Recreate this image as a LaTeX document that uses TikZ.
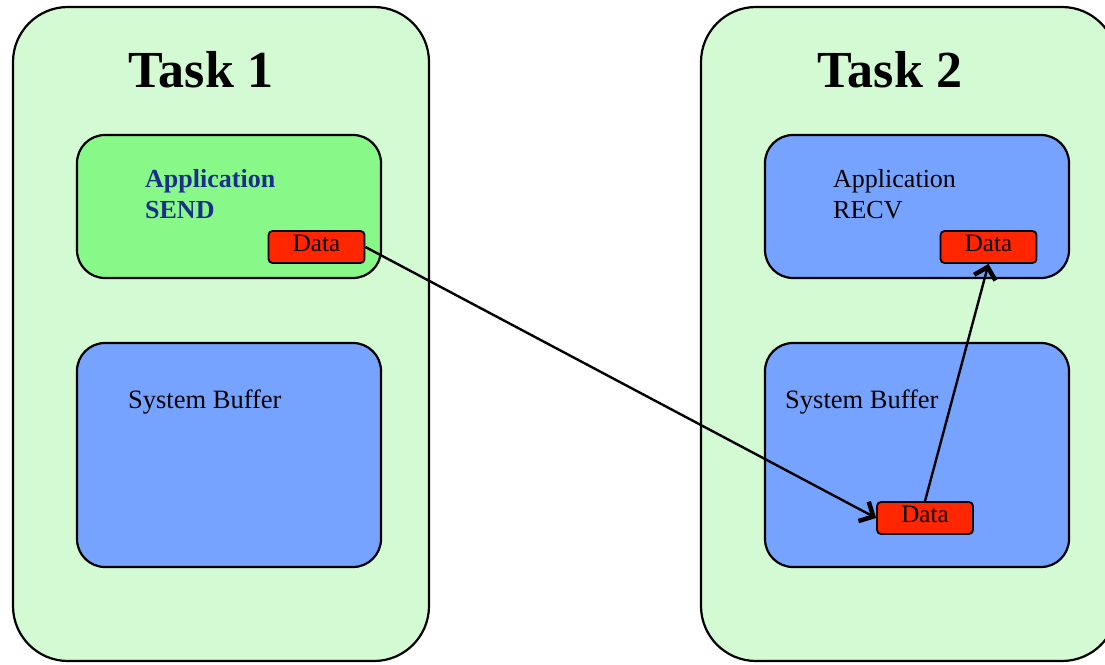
\documentclass[tikz,border=0pt]{standalone}
\usepackage{fontspec}
\setmainfont{Liberation Serif}
\usetikzlibrary{arrows.meta}
\definecolor{taskbg}{RGB}{212,250,212}
\definecolor{appgreen}{RGB}{136,249,136}
\definecolor{bufblue}{RGB}{117,163,255}
\definecolor{datared}{RGB}{255,38,0}
\definecolor{appblue}{RGB}{26,47,138}
\tikzset{
  taskbox/.style={draw=black, line width=2.2pt, fill=taskbg, rounded corners=55pt, minimum width=416pt, minimum height=654pt, inner sep=0pt},
  innerbox/.style={draw=black, line width=2.2pt, rounded corners=28pt, minimum width=304pt, inner sep=0pt},
  databox/.style={draw=black, line width=1.8pt, fill=datared, rounded corners=4pt, minimum width=96pt, inner sep=0pt, text height=20pt, text depth=12pt, font=\fontsize{25}{28}\selectfont},
  tasktitle/.style={font=\fontsize{52}{58}\selectfont\bfseries, inner sep=0pt},
  boxtext/.style={font=\fontsize{26}{30}\selectfont, inner sep=0pt, anchor=base west},
  buftext/.style={font=\fontsize{26.5}{32}\selectfont, inner sep=0pt, anchor=base west},
  flow/.style={line width=2.4pt, -{Straight Barb[length=11pt,width=22pt,line width=4.5pt]}}
}
\begin{document}
\begin{tikzpicture}[x=1pt,y=-1pt]
\useasboundingbox (0,0) rectangle (1105,664);
% Task 1
\node[taskbox] (t1) at (221,334) {};
\node[tasktitle, anchor=base] (t1title) at (201,87) {Task 1};
\node[innerbox, fill=appgreen, minimum height=143pt] (app1) at (229,206.5) {};
\node[boxtext, font=\fontsize{26}{30}\selectfont\bfseries, text=appblue] (app1a) at (145,187) {Application};
\node[boxtext, font=\fontsize{26}{30}\selectfont\bfseries, text=appblue] (app1b) at (145,218) {SEND};
\node[databox] (d1) at (316.5,247) {Data\hspace{5pt}};
\node[innerbox, fill=bufblue, minimum height=224pt] (buf1) at (229,455) {};
\node[buftext] (buf1t) at (128,408) {System Buffer};
% Task 2
\node[taskbox] (t2) at (909,334) {};
\node[tasktitle, anchor=base] (t2title) at (890,87) {Task 2};
\node[innerbox, fill=bufblue, minimum height=143pt] (app2) at (917,206.5) {};
\node[boxtext] (app2a) at (833,187) {Application};
\node[boxtext] (app2b) at (833,218) {RECV};
\node[databox] (d2) at (988.5,247) {Data\hspace{5pt}};
\node[innerbox, fill=bufblue, minimum height=224pt] (buf2) at (917,455) {};
\node[buftext] (buf2t) at (785,408) {System Buffer};
\node[databox] (d3) at (925,518) {Data\hspace{5pt}};
% arrows
\draw[flow] (d1.east) -- (d3.west);
\draw[flow] (d3.north) -- (d2.south);
\end{tikzpicture}
\end{document}
